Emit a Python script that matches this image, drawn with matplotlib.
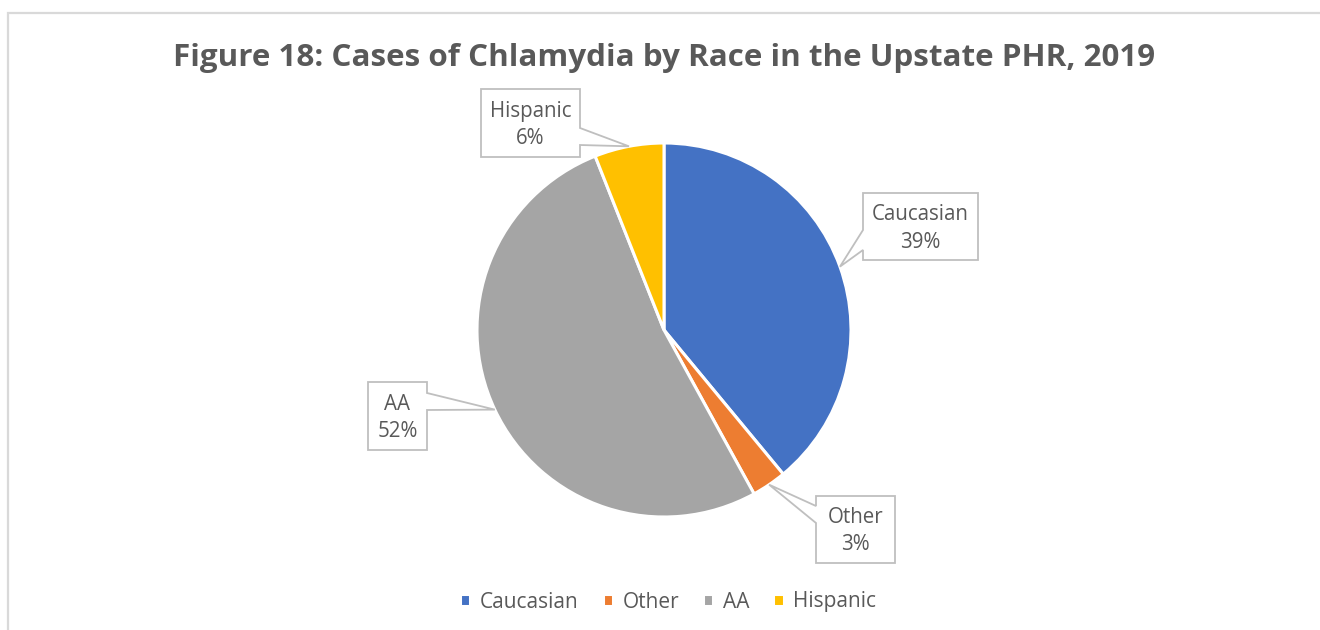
import matplotlib
matplotlib.use("Agg")
import matplotlib.pyplot as plt
from matplotlib.patches import Polygon
import numpy as np

categories = ["Caucasian", "Other", "AA", "Hispanic"]
values = [39, 3, 52, 6]
colors = ["#4472C4", "#ED7D31", "#A5A5A5", "#FFC000"]
title = "Figure 18: Cases of Chlamydia by Race in the Upstate PHR, 2019"

W, H = 1320, 630
plt.rcParams['font.family'] = ['Open Sans', 'DejaVu Sans']

fig = plt.figure(figsize=(W / 100, H / 100), dpi=100)
ax = fig.add_axes([0, 0, 1, 1])

def Y(y):
    return H - y

cx, cy, r = 664, 330, 187
wedges, _ = ax.pie(values, colors=colors, startangle=90, counterclock=False,
                   center=(cx, Y(cy)), radius=r,
                   wedgeprops=dict(edgecolor="white", linewidth=2.2))
ax.set_xlim(0, W)
ax.set_ylim(0, H)
ax.set_aspect("equal")
ax.axis("off")

# chart border
ax.plot([7.5, 7.5, W + 5], [-5, Y(12.5), Y(12.5)], color="#d9d9d9", lw=1.6,
        solid_joinstyle="miter", clip_on=False)

ax.text(664, Y(58), title, ha="center", va="center", fontsize=22.6,
        fontweight="bold", color="#595959")

# callout boxes: (left, top, right, bottom) in image px, pointer side, pointer base y range
boxes = {
    "Hispanic": ((481, 89, 580, 157), "right", (128, 145)),
    "Caucasian": ((863, 193, 978, 260), "left", (230, 250)),
    "AA": ((368, 382, 427, 450), "right", (393, 410)),
    "Other": ((816, 496, 895, 563), "left", (506, 523)),
}

total = sum(values)
for w, name, v in zip(wedges, categories, values):
    ang = np.deg2rad((w.theta1 + w.theta2) / 2)
    tip = (cx + r * np.cos(ang), Y(cy) + r * np.sin(ang))
    (l, t, rr, b), side, (p1, p2) = boxes[name]
    if side == "right":
        pts = [(l, Y(t)), (rr, Y(t)), (rr, Y(p1)), tip, (rr, Y(p2)), (rr, Y(b)), (l, Y(b))]
    else:
        pts = [(l, Y(t)), (rr, Y(t)), (rr, Y(b)), (l, Y(b)), (l, Y(p2)), tip, (l, Y(p1))]
    ax.add_patch(Polygon(pts, closed=True, facecolor="white", edgecolor="#bfbfbf",
                         lw=1.3, zorder=5))
    mx = (l + rr) / 2
    my = (t + b) / 2
    ax.text(mx, Y(my - 12), name, ha="center", va="center", fontsize=14.8,
            color="#595959", zorder=6)
    ax.text(mx, Y(my + 15.5), f"{v / total * 100:.0f}%", ha="center", va="center",
            fontsize=14.8, color="#595959", zorder=6)

# legend
leg = ax.legend(wedges, categories, loc="center", bbox_to_anchor=(668 / W, 1 - 602 / H),
                ncol=4, frameon=False, fontsize=15, handlelength=0.5, handleheight=0.5,
                handletextpad=0.45, columnspacing=1.15, labelcolor="#595959")

fig.savefig("out.png", dpi=100)
